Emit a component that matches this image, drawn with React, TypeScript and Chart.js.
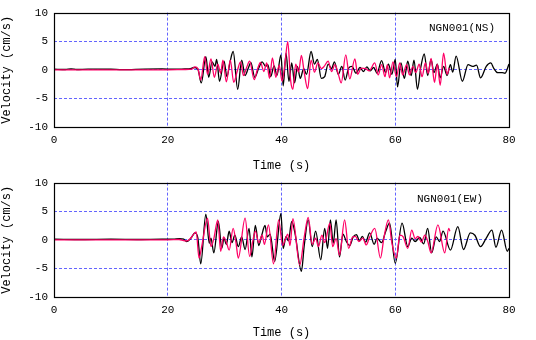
import React, { useEffect, useRef } from "react";
import { Chart, registerables } from "chart.js";
Chart.register(...registerables);

const MONO = "'Liberation Mono', 'DejaVu Sans Mono', monospace";
const GRID = "#6464ff";
const BLACK = "#000000";
const MAGENTA = "#ff0066";

const xTicks = [0, 20, 40, 60, 80];
const yTicks = [-10, -5, 0, 5, 10];
const xTitle = "Time (s)";
const yTitle = "Velocity (cm/s)";
const nsLabel = "NGN001(NS)";
const ewLabel = "NGN001(EW)";

// NS component: [time (s), velocity (cm/s)]
const nsBlack: [number, number][] = [
  [0, 0.1], [2, 0.05], [3, 0.15], [4, 0.05], [6, 0.12], [10, 0.1], [12, 0.02], [16, 0.12], [19, 0.15], [21, 0.1],
  [23, 0.15], [24, 0.2], [24.6, 0.4], [25.3, 0.1], [25.9, -2.3], [26.7, 2.3], [27.2, -1.3], [27.8, 1.4], [28.3, 0.6],
  [28.6, 1.8], [29.1, -2.0], [29.9, 1.5], [30.4, -1.2], [31.0, 1.6], [31.5, 3.2], [32.3, -3.4], [33.0, 1.7],
  [33.6, -1.0], [34.2, 0.4], [34.6, 1.3], [35.3, -1.3], [36.0, 0.3], [36.6, 1.4], [37.2, 0.6], [37.6, 0.9],
  [38.1, -1.2], [38.7, 0.7], [39.2, -1.0], [39.9, 2.6], [40.3, -2.8], [40.8, 2.9], [41.3, -2.0], [41.8, 1.2],
  [42.3, -2.3], [42.8, 0.6], [43.3, -1.5], [43.9, 0.2], [44.4, -0.8], [45.2, 3.2], [45.8, 1.0], [46.3, 1.8],
  [47.0, -1.5], [47.6, -1.2], [48.2, 1.0], [48.8, 0.2], [49.3, 1.4], [50.0, -0.8], [50.6, 0.6], [51.2, -1.8],
  [51.8, 0.3], [52.4, 0.6], [53.1, -0.6], [53.8, 0.4], [54.4, -0.3], [55.0, 0.5], [55.6, -0.2], [56.2, 0.4],
  [56.8, -0.6], [57.6, 1.6], [58.3, -0.5], [58.8, 1.0], [59.4, -0.8], [60.0, 1.8], [60.4, -3.0], [61.0, 1.2],
  [61.6, -1.5], [62.2, 1.5], [62.8, -1.0], [63.3, 1.7], [63.9, -3.4], [64.5, 0.5], [65.1, 2.8], [65.7, -1.0],
  [66.3, 1.8], [66.8, -0.5], [67.4, 1.0], [67.9, -1.4], [68.5, 0.6], [69.1, -1.0], [69.7, 0.9], [70.1, -0.4],
  [70.7, 2.4], [71.8, -2.0], [72.8, 0.9], [73.6, 0.6], [74.3, 0.8], [75.0, -1.4], [76.0, 0.6], [76.8, 1.2],
  [77.3, 0.3], [78.0, -0.5], [78.8, -0.5], [79.3, -0.6], [80.0, 1.0],
];
const nsMagenta: [number, number][] = [
  [0, 0], [10, 0], [20, 0], [23, 0.05], [24.2, 0.1], [24.8, 0.5], [25.3, 0.2], [25.8, -1.8], [26.5, 2.3],
  [27.0, -0.8], [27.6, 1.9], [28.2, -1.3], [28.8, 1.0], [29.3, -0.6], [29.7, 1.7], [30.3, -2.1], [31.0, 1.7],
  [31.6, -2.2], [32.2, -0.3], [32.8, 1.4], [33.3, -1.0], [33.9, 0.5], [34.4, 1.5], [35.2, -1.7], [35.8, 0.2],
  [36.3, 1.3], [36.9, -0.3], [37.4, 1.2], [37.9, -1.5], [38.4, 2.1], [39.0, -1.3], [39.6, 0.8], [40.1, -2.0],
  [40.6, 1.0], [41.1, 4.9], [41.6, -1.8], [42.0, -3.4], [42.5, 1.0], [43.0, -0.4], [43.5, 2.5], [44.0, -0.5],
  [44.6, -3.3], [45.2, 1.7], [45.8, -0.4], [46.4, 1.2], [47.0, 0.2], [47.5, 0.6], [48.2, 1.5], [48.8, -0.3],
  [49.4, 0.9], [50.0, -0.8], [50.5, -2.3], [51.3, 2.6], [52.0, -1.6], [52.9, 1.9], [53.4, -0.8], [54.0, 0.3],
  [54.8, 0.2], [55.4, -0.2], [56.4, 1.2], [57.0, -0.9], [57.6, 0.9], [58.2, -1.2], [58.6, 0.9], [59.0, -1.4],
  [59.6, 1.4], [60.2, -1.2], [60.8, 1.2], [61.3, -0.9], [62.0, 0.9], [62.5, -0.9], [63.1, 0.6], [63.6, -0.5],
  [64.2, 1.0], [64.7, -1.2], [65.3, 1.2], [65.8, -0.6], [66.3, 2.0], [66.9, -2.2], [67.4, 1.0], [67.9, -2.7],
  [68.5, 2.9], [69.1, -0.8], [69.5, 0.3],
];

// EW component: [time (s), velocity (cm/s)]
const ewBlack: [number, number][] = [
  [0, 0.1], [5, 0.05], [10, 0.1], [15, 0.05], [19, 0.1], [21, 0.1], [22, 0.2], [22.8, 0.1], [23.3, -0.3],
  [24.0, 0.2], [24.8, 1.2], [25.3, 0.3], [25.8, -4.2], [26.7, 4.5], [27.3, -0.6], [27.6, 0.3], [28.1, -2.3],
  [28.9, 3.2], [29.5, -1.5], [29.9, 0.3], [30.3, -0.8], [30.8, 1.5], [31.3, -0.5], [31.8, 0.8], [32.4, -1.2],
  [33.0, 0.5], [33.6, -1.7], [34.3, 2.0], [34.8, -3.0], [35.4, 2.5], [36.0, -1.0], [36.5, 0.7], [37.1, 2.5],
  [37.5, 0.5], [38.0, 1.0], [38.8, -3.8], [39.9, 4.6], [40.3, -1.5], [40.8, 0.6], [41.2, -0.2], [41.8, 3.2],
  [42.4, 1.0], [43.5, -5.5], [44.0, -1.0], [44.7, 3.5], [45.4, -1.2], [46.0, 1.5], [46.9, -3.5], [47.6, 2.0],
  [48.1, -1.5], [48.6, 3.5], [49.1, -0.6], [49.6, 3.5], [50.2, -3.0], [50.8, 1.0], [51.4, -0.3], [52.0, -1.0],
  [52.6, 0.5], [53.2, 0.9], [53.7, -0.2], [54.2, 0.6], [54.8, -0.4], [55.5, 1.2], [56.3, -0.8], [56.8, 0.3],
  [57.6, -0.5], [58.3, 1.4], [59.0, 2.9], [60.0, -4.1], [61.2, 2.9], [62.2, -1.2], [62.9, 0.3], [63.5, -0.3],
  [64.3, 0.4], [65.0, -0.7], [65.7, 2.0], [66.4, -2.3], [67.2, 0.5], [67.8, -0.3], [68.4, 1.5], [69.7, -1.8],
  [71.0, 2.3], [72.0, -1.7], [73.2, 1.2], [74.0, 0.8], [75.0, -1.2], [76.0, 0.3], [77.0, 1.7], [77.7, -1.3],
  [78.7, 1.7], [79.7, -2.0], [80, -1.5],
];
const ewMagenta: [number, number][] = [
  [0, 0], [10, 0], [20, 0], [22, 0.05], [23, -0.2], [23.6, -0.1], [24.2, 0.5], [25.0, 1.4], [25.5, -3.2],
  [26.0, -1.0], [27.0, 3.8], [27.6, -1.2], [28.1, 0.2], [28.8, 3.5], [29.3, -2.0], [29.8, 0.5], [30.3, -0.4],
  [30.8, -1.8], [31.5, 2.0], [32.0, -0.5], [32.4, -3.2], [33.6, 3.8], [34.4, -2.9], [34.9, -0.5], [35.4, 1.5],
  [36.0, -0.5], [36.6, 0.8], [37.0, -0.8], [37.7, 2.6], [38.6, -4.2], [39.5, 3.5], [40.2, -1.0], [40.7, 0.2],
  [41.1, 1.0], [41.5, -1.0], [42.0, 3.7], [43.2, -4.4], [44.0, 0.5], [44.7, 3.9], [45.4, -0.8], [46.0, 0.3],
  [46.5, -1.2], [47.1, 0.8], [47.6, -0.5], [48.5, 2.9], [49.0, -1.2], [49.6, 0.2], [50.2, -2.7], [51.1, 3.5],
  [51.8, -1.5], [52.5, 0.5], [53.0, 0.6], [53.6, -0.3], [54.3, 0.3], [54.9, -0.9], [55.5, 0.5], [56.4, 2.0],
  [57.4, -3.2], [58.0, 0.3], [58.8, 3.5], [59.4, -0.5], [60.2, -3.2], [60.8, 0.8], [61.4, 0.5], [62.2, -1.5],
  [62.9, 1.7], [63.5, 0.2], [64.0, 0.6], [64.6, -0.4], [65.2, 0.8], [65.7, -0.2], [66.3, -2.3], [67.5, 2.6],
  [68.7, -2.3], [69.4, 2.0], [69.6, 1.5],
];

const boxPlugin = {
  id: "box",
  afterDatasetsDraw(chart: any) {
    const { ctx, chartArea: a } = chart;
    ctx.save();
    ctx.strokeStyle = "#000";
    ctx.lineWidth = 1.2;
    ctx.strokeRect(
      Math.round(a.left) + 0.5,
      Math.round(a.top) + 0.5,
      Math.round(a.right - a.left),
      Math.round(a.bottom - a.top)
    );
    ctx.restore();
  },
};

type PanelProps = {
  top: number;
  height: number;
  padTop: number;
  xAxisH: number;
  black: [number, number][];
  magenta: [number, number][];
  label: string;
  labelInsetRight: number;
  labelDy: number;
};

function Panel(p: PanelProps) {
  const ref = useRef<HTMLCanvasElement>(null);
  useEffect(() => {
    const labelPlugin = {
      id: "stationLabel",
      afterDraw(chart: any) {
        const { ctx, chartArea: a } = chart;
        ctx.save();
        ctx.font = `11px ${MONO}`;
        ctx.fillStyle = "#000";
        ctx.textAlign = "right";
        ctx.textBaseline = "middle";
        ctx.fillText(p.label, a.right - p.labelInsetRight, a.top + p.labelDy);
        ctx.restore();
      },
    };
    const gridColor = (c: any) =>
      c.index === 0 || c.index === 4 ? "rgba(0,0,0,0)" : GRID;
    const chart = new Chart(ref.current as HTMLCanvasElement, {
      type: "line",
      data: {
        datasets: [
          {
            data: p.magenta.map(([x, y]) => ({ x, y })),
            borderColor: MAGENTA,
            borderWidth: 1.3,
            pointRadius: 0,
            cubicInterpolationMode: "monotone",
          },
          {
            data: p.black.map(([x, y]) => ({ x, y })),
            borderColor: BLACK,
            borderWidth: 1.3,
            pointRadius: 0,
            cubicInterpolationMode: "monotone",
          },
        ],
      },
      options: {
        animation: false,
        responsive: false,
        events: [],
        layout: { padding: { top: p.padTop, right: 27, left: 0, bottom: 0 } },
        plugins: { legend: { display: false }, tooltip: { enabled: false } },
        scales: {
          x: {
            type: "linear",
            min: 0,
            max: 80,
            afterBuildTicks: (s: any) => {
              s.ticks = xTicks.map((v) => ({ value: v }));
            },
            afterFit: (s: any) => {
              s.height = p.xAxisH;
            },
            grid: { color: gridColor, lineWidth: 1, drawTicks: false },
            border: { display: false, dash: [3, 2] },
            ticks: {
              color: "#000",
              font: { family: MONO, size: 11 },
              padding: 6,
              maxRotation: 0,
            },
            title: {
              display: true,
              text: xTitle,
              color: "#000",
              font: { family: MONO, size: 12 },
              padding: { top: 0, bottom: 0 },
            },
          },
          y: {
            type: "linear",
            min: -10,
            max: 10,
            afterBuildTicks: (s: any) => {
              s.ticks = yTicks.map((v) => ({ value: v }));
            },
            afterFit: (s: any) => {
              s.width = 54;
            },
            grid: { color: gridColor, lineWidth: 1, drawTicks: false },
            border: { display: false, dash: [3, 2] },
            ticks: {
              color: "#000",
              font: { family: MONO, size: 11 },
              padding: 6,
            },
            title: {
              display: true,
              text: yTitle,
              color: "#000",
              font: { family: MONO, size: 12 },
              padding: { top: 0, bottom: 0 },
            },
          },
        },
      } as any,
      plugins: [boxPlugin, labelPlugin],
    });
    return () => chart.destroy();
  }, []);
  return (
    <canvas
      ref={ref}
      width={536}
      height={p.height}
      style={{ position: "absolute", left: 0, top: p.top, width: 536, height: p.height }}
    />
  );
}

export default function App() {
  return (
    <div
      style={{
        position: "fixed",
        left: 0,
        top: 0,
        width: 536,
        height: 340,
        background: "#fff",
        overflow: "hidden",
      }}
    >
      <Panel
        top={0}
        height={173}
        padTop={12}
        xAxisH={46}
        black={nsBlack}
        magenta={nsMagenta}
        label={nsLabel}
        labelInsetRight={14}
        labelDy={15}
      />
      <Panel
        top={170}
        height={170}
        padTop={11}
        xAxisH={43}
        black={ewBlack}
        magenta={ewMagenta}
        label={ewLabel}
        labelInsetRight={26}
        labelDy={16}
      />
    </div>
  );
}
